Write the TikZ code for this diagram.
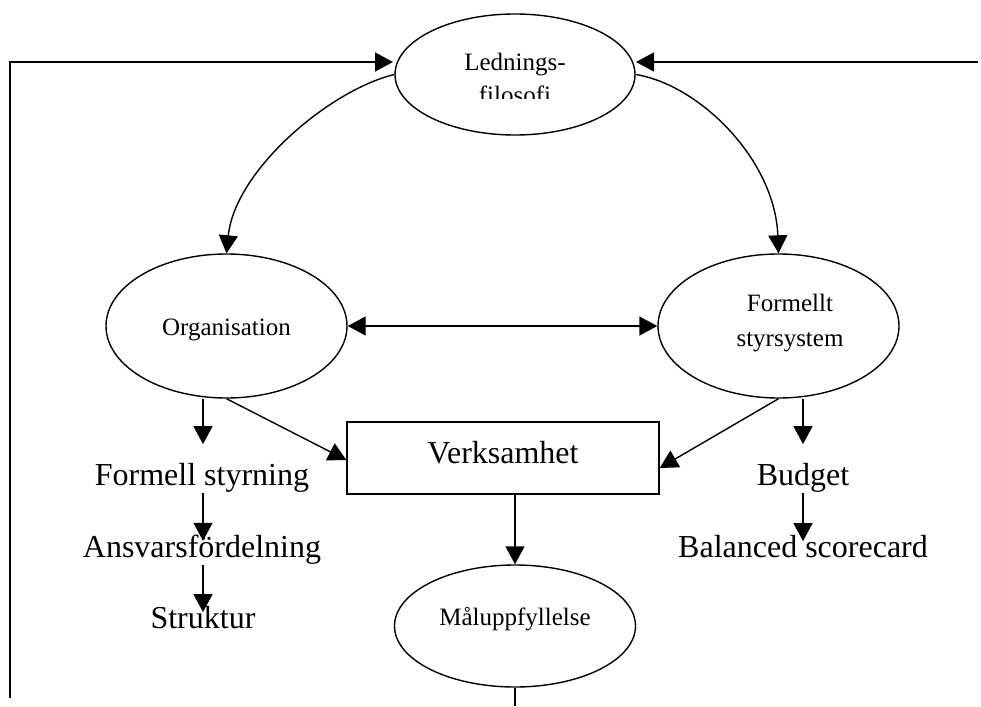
\documentclass[tikz,border=0pt]{standalone}
\usepackage{fontspec}
\setmainfont{Liberation Serif}
\usetikzlibrary{arrows.meta,shapes.geometric}
\begin{document}
\begin{tikzpicture}[x=1pt,y=-1pt,line width=1.4pt,
  >={Triangle[length=18pt,width=19pt]},
  ell/.style={draw,ellipse,inner sep=0pt,line width=1.4pt},
  lbl/.style={font=\fontsize{25}{30}\selectfont,inner sep=0pt,anchor=base},
  biglbl/.style={font=\fontsize{32}{38}\selectfont,inner sep=0pt,anchor=base}]
\useasboundingbox (0,0) rectangle (981,706);

% shapes
\node[ell,minimum width=240pt,minimum height=121pt] (led) at (515,74.5) {};
\node[ell,minimum width=241pt,minimum height=144pt] (org) at (226.5,326) {};
\node[ell,minimum width=241pt,minimum height=144pt] (fss) at (778.5,326) {};
\node[draw,inner sep=0pt,minimum width=312pt,minimum height=72pt] (verk) at (503,458) {};
\node[ell,minimum width=241pt,minimum height=122pt] (mal) at (515,626) {};

% texts
\node[lbl] (ledt) at (515,71) {Lednings-};
\begin{scope}
  \clip (395,0) rectangle (640,99);
  \node[lbl] (ledt2) at (515,103) {filosofi};
\end{scope}
\node[lbl] (orgt) at (226.5,335) {Organisation};
\node[lbl] (fsst1) at (790,311) {Formellt};
\node[lbl] (fsst2) at (790,346) {styrsystem};
\node[lbl] (malt) at (515,625) {Måluppfyllelse};
\node[biglbl] (verkt) at (503,463) {Verksamhet};
\node[biglbl] (fs) at (202,485) {Formell styrning};
\node[biglbl] (ans) at (202,557) {Ansvarsfördelning};
\node[biglbl] (str) at (203,628) {Struktur};
\node[biglbl] (bud) at (803,485) {Budget};
\node[biglbl] (bal) at (803,557) {Balanced scorecard};

% free ends
\coordinate (lb) at (10,698);
\coordinate (lt) at (10,62);
\coordinate (ledL) at (393,62);
\coordinate (rt) at (978,62);
\coordinate (ledR) at (636,62);
\coordinate (malB) at (515,706);

% connectors
\draw[->] (lb) -- (lt) -- (ledL);
\draw[->] (rt) -- (ledR);
\draw[->] (led.west) .. controls (330,90) and (235,170) .. (org.north);
\draw[->] (led.east) .. controls (700,85) and (775,160) .. (fss.north);
\draw[<->] (org.east) -- (fss.west);
\draw[->] (org.south) -- ([yshift=-2pt]verk.west);
\draw[->] (fss.south) -- ([yshift=-10pt]verk.east);
\draw[->] (org.south -| str.north) -- ([yshift=18pt]str.north |- fs.north);
\draw[->] (fs.south -| str.north) -- ([yshift=-7pt]str.north |- ans.north);
\draw[->] (ans.south -| str.north) -- ([yshift=-7pt]str.north);
\draw[->] (fss.south -| bud.north) -- ([yshift=18pt]bud.north);
\draw[->] (bud.south) -- ([yshift=-7pt]bal.north);
\draw[->] (verk.south -| mal.north) -- (mal.north);
\draw (mal.south) -- (malB);
\end{tikzpicture}
\end{document}
